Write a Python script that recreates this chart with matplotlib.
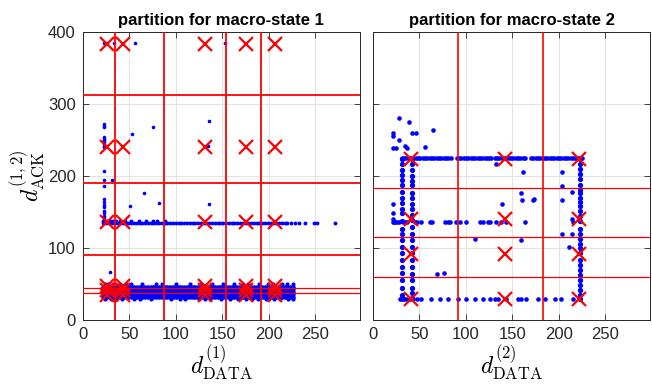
import matplotlib
matplotlib.use('Agg')
import matplotlib.pyplot as plt
import numpy as np

# ---- macro-state 1 data ----
band_x = [22, 25, 28, 31, 34, 37, 40, 43, 46, 49, 52, 55, 58, 61, 64, 67, 70, 73, 76, 79,
          82, 85, 88, 91, 94, 97, 100, 103, 106, 109, 112, 115, 118, 121, 124, 127, 130, 133,
          136, 139, 142, 145, 148, 151, 154, 157, 160, 163, 166, 169, 172, 175, 178, 181, 184,
          187, 190, 193, 196, 199, 202, 205, 208, 211, 214, 217, 220, 223, 226]
band_y = [32.5, 36, 39.5, 43, 46.5]
band_low_x = [24, 30, 36, 42, 55, 61, 73, 95, 104, 110, 125, 131, 137, 149, 158, 167, 176,
              182, 188, 197, 206, 212, 221, 226]
band_low_y = 29
band_high_x = [24, 27, 33, 40, 46, 52, 64, 79, 85, 100, 115, 127, 139, 151, 163, 172, 178,
               190, 199, 205, 214, 220, 226]
band_high_y = 50

ack_row_x = [22, 25, 28, 31, 34, 37, 40, 43, 46, 49, 52, 55, 58, 61, 64, 67, 70, 73, 76, 79,
             82, 85, 88, 91, 94, 97, 100, 103, 106, 109, 112, 115, 118, 121, 124, 127, 130,
             133, 136, 139, 142, 145, 148, 151, 154, 157, 160, 163, 166, 169, 172, 175, 178,
             181, 184, 187, 190, 193, 196, 199, 202, 205, 208, 211, 214, 217, 220, 224, 228,
             233, 239, 249, 252, 271]
ack_row_y = 134.5
ack_row2_x = [22, 24, 26, 28, 30, 33, 36, 40, 45, 52, 60, 68, 75, 80, 88]
ack_row2_y = 137.5

left_col_x = 22.5
left_col_y = [272, 269.5, 267.5, 254.5, 252, 250, 247, 244, 242, 240, 207, 194.5, 185.5,
              167.5, 164, 160, 156.5, 152, 148, 145, 142, 139]

scatter1_x = [31.5, 53, 76, 66, 51, 81.5, 135.5, 135, 132, 135.5, 29, 23, 26, 33.5, 56, 153]
scatter1_y = [194.5, 259, 268.5, 177, 159, 162, 276, 242, 242, 160.5, 67, 385, 385, 385, 385, 385]

centers1_x = [26.5, 43, 131, 175.6, 207]
centers1_y = [384, 240.5, 135.5]
low_centers1_y = [35, 41, 47]
ring1 = (35, 41)
vlines1 = [35, 87, 153.5, 192]
hlines1 = [312.5, 190, 90]
hlines1_thin = [44, 38]

# ---- macro-state 2 data ----
col_a_x = 30.8
col_a_y = [224, 217, 208, 201, 194, 187, 178, 169, 162, 154, 148, 137, 127, 119, 111, 101,
           93, 83, 73, 65, 56, 45, 35, 30]
col_b_x = 41.5
col_b_y = [224, 217, 208, 200, 193, 187, 176, 169, 161, 154, 146, 139, 129, 119, 111, 102,
           93, 83, 73, 64, 55, 45, 38, 30]
col_c_x = 222.4
col_c_y = [224, 217, 210, 203, 196, 188, 181, 177, 170, 164, 158, 152, 144, 137, 127, 120,
           113, 106, 100, 93, 83, 76, 69, 62, 56, 49, 42, 35, 29]

top_row_y = 224.5
top_row_x = [31, 33.5, 36, 38.5, 41, 43.5, 46, 48.5, 51, 53.5, 56, 58.5, 61, 63.5, 66, 68.5,
             71, 73.5, 76, 78.5, 81, 83.5,
             90, 92.5, 95, 97.5, 100, 102.5, 105, 107.5, 110, 112.5, 115, 117.5, 120, 122.5,
             125, 127,
             131, 133.5, 136, 138.5, 141, 143.5, 146, 148.5, 151, 153.5, 156, 158.5, 161, 164,
             170, 172.5, 175, 177.5, 180, 182.5, 185, 187.5, 190, 192.5, 195, 197.5, 200,
             202.5, 205, 207.5, 210, 212.5, 215, 217.5, 220, 222.5, 225]

mid_row_y = 136.5
mid_row_x = [21.8, 22.9, 24, 26, 28, 32.5, 35, 37, 45, 47, 52, 61, 63, 78, 80.6, 82.4, 89.6,
             93.2, 100.4, 114.7, 118.3, 123.6, 125.4, 131.8, 137.9, 143.3, 163, 214.9]

low_row_y = 29.5
low_row_x = [29, 31, 33, 36, 39.7, 43, 46.9, 52.2, 62.9, 71.9, 80.8, 91.5, 99.8, 109.5, 118.4,
             125.5, 130.9, 134.5, 143.4, 156, 159.5, 164.9, 177.4, 184.5, 195.3, 202.4, 215]

scatter2_x = [27.9, 39, 21.8, 21.8, 41.5, 45.8, 28.2, 64.7, 21.8, 24.7, 34.3, 36.2, 56.5, 132,
              161, 203.5, 159.5, 160, 172.4, 203, 138.4, 21.8, 213.8, 109.4, 159.5, 203, 213.8,
              211, 69, 76.5, 173, 203, 213.8, 21.8, 21.8]
scatter2_y = [281, 275, 260, 256, 260, 260, 250, 264, 238.4, 238.4, 241.7, 238.4, 239.8, 216,
              205, 205, 176.8, 166.7, 166.7, 166.7, 161, 161, 140, 112, 111, 120, 120,
              101, 63.4, 64.8, 168, 186.5, 178, 148, 140]

centers2_x = [41, 142.4, 222]
centers2_y = [224, 140, 91.7, 29]
vlines2 = [92, 183]
hlines2 = [183, 115.7, 60]

BLUE = '#0000ff'
RED = '#ff0000'
TEXT = '#262626'


def dots(ax, x, y, ms):
  ax.plot(x, y, 'o', color=BLUE, ms=ms, mew=0, ls='none', zorder=2)


def crosses(ax, xs, ys):
  gx, gy = np.meshgrid(xs, ys)
  ax.plot(gx.ravel(), gy.ravel(), 'x', color=RED, ms=9.5, mew=1.6, ls='none', zorder=4)


def style_axes(ax, title):
  ax.set_xlim(0, 298)
  ax.set_ylim(0, 400)
  ax.set_xticks([0, 50, 100, 150, 200, 250])
  ax.set_yticks([0, 100, 200, 300, 400])
  ax.grid(True, color='#e3e3e3', lw=0.8, zorder=0)
  ax.set_axisbelow(True)
  ax.tick_params(direction='in', top=True, right=True, length=4, width=0.6,
                 colors=TEXT, labelsize=12, pad=5)
  for sp in ax.spines.values():
    sp.set_color(TEXT)
    sp.set_linewidth(0.7)
  ax.set_title(title, fontsize=12, fontweight='bold', color='black', pad=5)


plt.rcParams.update({
  'font.family': ['Liberation Sans', 'DejaVu Sans'],
  'mathtext.fontset': 'cm',
})

fig = plt.figure(figsize=(6.52, 3.86), dpi=100)
ax1 = fig.add_axes([0.127, 0.171, 0.425, 0.746])
ax2 = fig.add_axes([0.572, 0.171, 0.425, 0.746])

# left panel
bx, by = np.meshgrid(band_x, band_y)
dots(ax1, bx.ravel(), by.ravel(), 3.3)
dots(ax1, band_low_x, [band_low_y] * len(band_low_x), 3.0)
dots(ax1, band_high_x, [band_high_y] * len(band_high_x), 3.0)
dots(ax1, ack_row_x, [ack_row_y] * len(ack_row_x), 2.8)
dots(ax1, ack_row2_x, [ack_row2_y] * len(ack_row2_x), 2.8)
dots(ax1, [left_col_x] * len(left_col_y), left_col_y, 2.6)
dots(ax1, scatter1_x, scatter1_y, 2.6)

for v in vlines1:
  ax1.axvline(v, color=RED, lw=1.3, zorder=3)
for h in hlines1:
  ax1.axhline(h, color=RED, lw=1.3, zorder=3)
for h in hlines1_thin:
  ax1.axhline(h, color=RED, lw=0.9, zorder=3)
crosses(ax1, centers1_x, centers1_y)
crosses(ax1, centers1_x, low_centers1_y)
ax1.plot(*ring1, 'o', mfc='none', mec=RED, ms=8, mew=1.2, zorder=4)

style_axes(ax1, 'partition for macro-state 1')
ax1.set_xlabel(r'$d^{(1)}_{\mathrm{DATA}}$', fontsize=17, labelpad=1)
ax1.set_ylabel(r'$d^{(1,2)}_{\mathrm{ACK}}$', fontsize=17, labelpad=1)

# right panel
dots(ax2, [col_a_x] * len(col_a_y), col_a_y, 3.8)
dots(ax2, [col_b_x] * len(col_b_y), col_b_y, 3.8)
dots(ax2, [col_c_x] * len(col_c_y), col_c_y, 3.8)
dots(ax2, top_row_x, [top_row_y] * len(top_row_x), 3.3)
dots(ax2, mid_row_x, [mid_row_y] * len(mid_row_x), 3.3)
dots(ax2, low_row_x, [low_row_y] * len(low_row_x), 3.3)
dots(ax2, scatter2_x, scatter2_y, 3.3)

for v in vlines2:
  ax2.axvline(v, color=RED, lw=1.2, zorder=3)
for h in hlines2:
  ax2.axhline(h, color=RED, lw=0.9, zorder=3)
crosses(ax2, centers2_x, centers2_y)

style_axes(ax2, 'partition for macro-state 2')
ax2.set_yticklabels([])
ax2.set_xlabel(r'$d^{(2)}_{\mathrm{DATA}}$', fontsize=17, labelpad=1)

fig.savefig('out.png', dpi=100)
